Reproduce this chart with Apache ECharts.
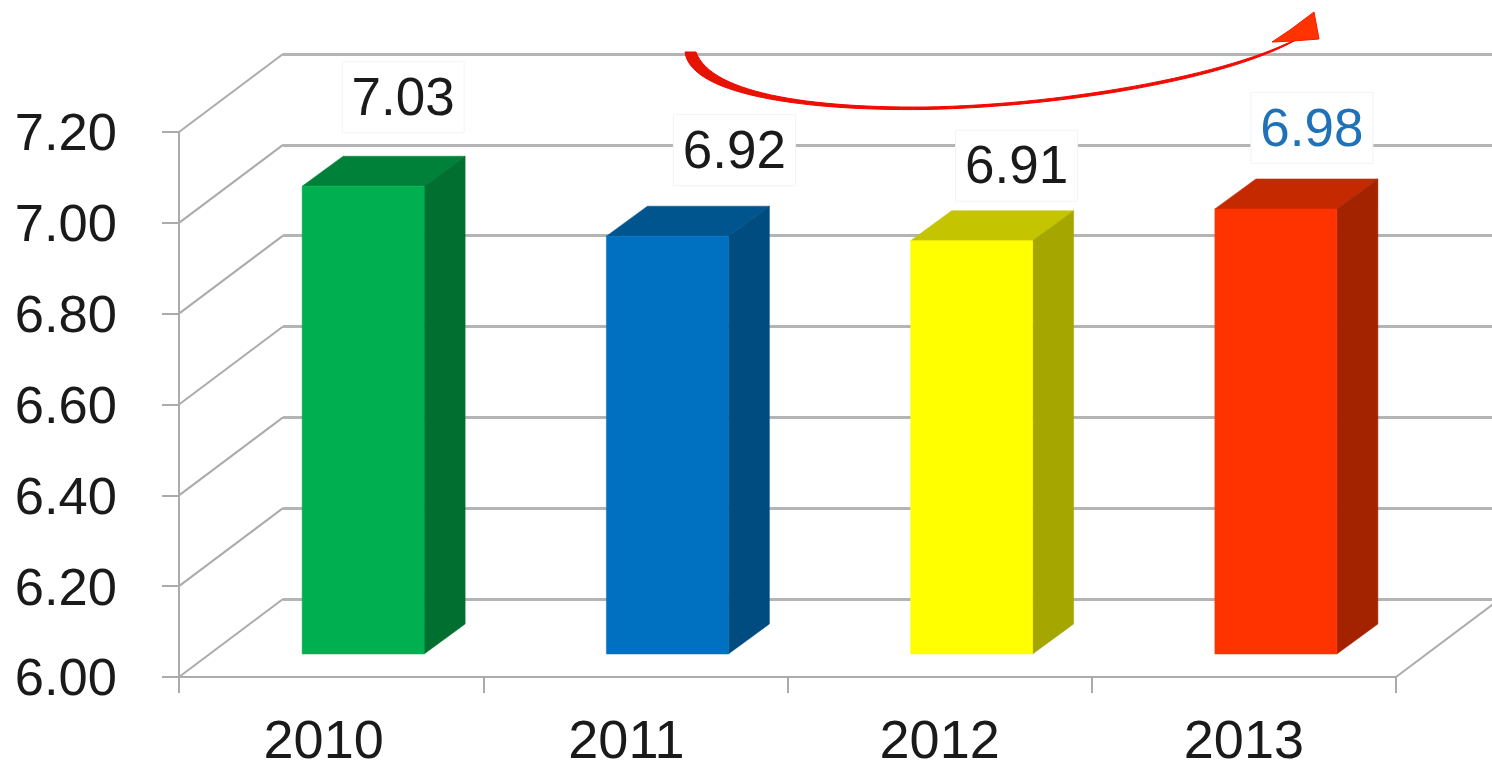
<!DOCTYPE html>
<html>
<head>
<meta charset="utf-8">
<style>
html,body{margin:0;padding:0;background:#fff;overflow:hidden}
#c{width:1492px;height:763px;filter:blur(0.6px)}
</style>
<script src="https://cdn.jsdelivr.net/npm/echarts@6/dist/echarts.min.js"></script>
</head>
<body>
<div id="c"></div>
<script>
const categories = ['2010', '2011', '2012', '2013'];
const values = [7.03, 6.92, 6.91, 6.98];
const valueTexts = ['7.03', '6.92', '6.91', '6.98'];
const yTicks = [6.0, 6.2, 6.4, 6.6, 6.8, 7.0, 7.2];
const frontColors = ['#00B050', '#0070C0', '#FFFF00', '#FF3300'];
const topColors = ['#00813A', '#00558F', '#C4C400', '#C42900'];
const sideColors = ['#006F30', '#004B80', '#A6A600', '#A32200'];
const labelColors = ['#1A1A1A', '#1A1A1A', '#1A1A1A', '#1F72B8'];
const labelShiftX = [40, 67, 45, 36];
const labelShiftY = [-89, -86, -75, -81];
const categoryLabelShift = [15, 18, 0, 0];

const GREY = '#ABABAB';
const FONT = 'Liberation Sans, Arial, sans-serif';
const DEPTH_X = 104, DEPTH_Y = -78;
const BAR_W = 122, BAR_OFF_X = 32, BAR_OFF_Y = -23, BAR_DX = 41, BAR_DY = -30;

function bez(p0, p1, p2, p3, n) {
  const out = [];
  for (let k = 0; k <= n; k++) {
    const t = k / n, u = 1 - t;
    out.push([
      u*u*u*p0[0] + 3*u*u*t*p1[0] + 3*u*t*t*p2[0] + t*t*t*p3[0],
      u*u*u*p0[1] + 3*u*u*t*p1[1] + 3*u*t*t*p2[1] + t*t*t*p3[1]
    ]);
  }
  return out;
}
const arrowBody = [].concat(
  bez([685, 52], [690, 94], [800, 111], [925, 109.5], 30),
  bez([925, 109.5], [1060, 107], [1225, 80], [1296, 40], 30),
  bez([1296, 39], [1225, 76], [1060, 105], [925, 107], 30),
  bez([925, 107], [805, 108], [710, 92], [696, 52], 30)
);

const chart = echarts.init(document.getElementById('c'), null, {renderer: 'canvas', width: 1492, height: 763});
chart.setOption({
  animation: false,
  backgroundColor: '#fff',
  grid: [
    {left: 179, top: 132, width: 1217, height: 545, outerBoundsMode: 'none', containLabel: false},
    {left: 283, top: 54, right: 0, height: 545, outerBoundsMode: 'none', containLabel: false}
  ],
  xAxis: [
    {
      type: 'category', gridIndex: 0,
      data: categories.map((c, i) => ({value: c, textStyle: {padding: [0, categoryLabelShift[i], 0, 0]}})),
      boundaryGap: true,
      axisLine: {lineStyle: {color: GREY, width: 2}},
      axisTick: {show: true, alignWithLabel: false, length: 16, lineStyle: {color: GREY, width: 2}},
      axisLabel: {color: '#1A1A1A', fontFamily: FONT, fontSize: 54, margin: 39, interval: 0},
      splitLine: {show: false}
    },
    {type: 'category', gridIndex: 1, data: categories, show: false}
  ],
  yAxis: [
    {
      type: 'value', gridIndex: 0, min: 6, max: 7.2, interval: 0.2,
      axisLine: {show: true, lineStyle: {color: GREY, width: 2}},
      axisTick: {show: true, length: 17, lineStyle: {color: GREY, width: 2}},
      axisLabel: {color: '#1A1A1A', fontFamily: FONT, fontSize: 52.5, margin: 62, verticalAlign: 'top', lineHeight: 8, formatter: v => v.toFixed(2)},
      splitLine: {show: false}
    },
    {
      type: 'value', gridIndex: 1, min: 6, max: 7.2, interval: 0.2,
      axisLine: {show: false}, axisTick: {show: false}, axisLabel: {show: false},
      splitLine: {show: true, lineStyle: {color: '#B4B4B4', width: 3}}
    }
  ],
  graphic: [
    {type: 'polygon', z: 50, shape: {points: arrowBody},
      style: {fill: '#E41400', stroke: '#FF0000', lineWidth: 1}},
    {type: 'polygon', z: 51, shape: {points: [[1314, 12], [1319, 39], [1293, 41], [1272, 42], [1290, 30]]},
      style: {fill: '#FF3300', stroke: '#FF1500', lineWidth: 1}}
  ],
  series: [
    {
      type: 'custom', xAxisIndex: 0, yAxisIndex: 0, z: 3, silent: true,
      data: yTicks.map(v => [0, v]),
      encode: {x: 0, y: 1},
      renderItem(params, api) {
        const y = api.coord([0, api.value(1)])[1];
        const x = params.coordSys.x;
        const line = (a) => ({type: 'line',
          shape: {x1: a, y1: y, x2: a + DEPTH_X, y2: y + DEPTH_Y},
          style: {stroke: GREY, lineWidth: 2}});
        const children = [line(x)];
        if (params.dataIndex === 0) children.push(line(x + params.coordSys.width));
        return {type: 'group', children};
      }
    },
    {
      type: 'custom', xAxisIndex: 0, yAxisIndex: 0, z: 5, silent: true,
      data: values.map((v, i) => [i, v]),
      encode: {x: 0, y: 1},
      renderItem(params, api) {
        const i = params.dataIndex;
        const top = api.coord([i, api.value(1)]);
        const base = api.coord([i, 6]);
        const xl = top[0] + BAR_OFF_X - BAR_W / 2;
        const xr = xl + BAR_W;
        const yt = top[1] + BAR_OFF_Y;
        const yb = base[1] + BAR_OFF_Y;
        const poly = (pts, fill) => ({type: 'polygon', shape: {points: pts}, style: {fill, stroke: fill, lineWidth: 0.5}});
        return {type: 'group', children: [
          poly([[xl, yt], [xl + BAR_DX, yt + BAR_DY], [xr + BAR_DX, yt + BAR_DY], [xr, yt]], topColors[i]),
          poly([[xr, yt], [xr + BAR_DX, yt + BAR_DY], [xr + BAR_DX, yb + BAR_DY], [xr, yb]], sideColors[i]),
          poly([[xl, yt], [xr, yt], [xr, yb], [xl, yb]], frontColors[i])
        ]};
      }
    },
    {
      type: 'custom', xAxisIndex: 0, yAxisIndex: 0, z: 8, silent: true,
      data: values.map((v, i) => [i, v]),
      encode: {x: 0, y: 1},
      renderItem(params, api) {
        const i = params.dataIndex;
        const p = api.coord([i, api.value(1)]);
        const cx = p[0] + BAR_OFF_X + labelShiftX[i];
        const cy = p[1] + BAR_OFF_Y + labelShiftY[i];
        return {type: 'group', children: [
          {type: 'rect', shape: {x: cx - 61, y: cy - 35.5, width: 122, height: 71},
            style: {fill: '#FFFFFF', stroke: '#F3F3F3', lineWidth: 1}},
          {type: 'text', style: {x: cx, y: cy + 3, text: valueTexts[i], align: 'center', verticalAlign: 'middle',
            fontFamily: FONT, fontSize: 53, fill: labelColors[i]}}
        ]};
      }
    }
  ]
});
</script>
</body>
</html>
